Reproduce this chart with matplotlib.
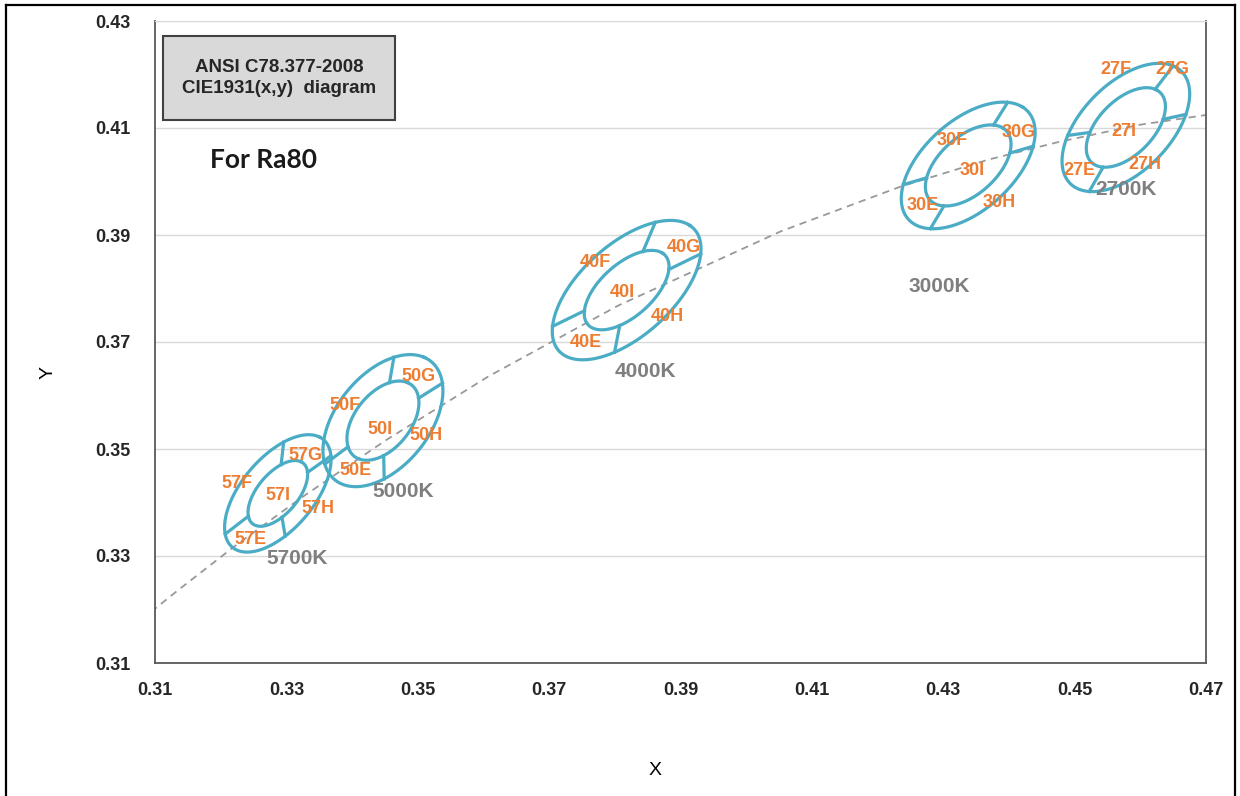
import matplotlib
matplotlib.use("Agg")
import matplotlib.pyplot as plt
import numpy as np
from matplotlib.patches import Rectangle
from matplotlib.lines import Line2D

plt.rcParams['font.family'] = ['Liberation Sans', 'DejaVu Sans']

# ANSI C78.377 nominal centres
cct_names = ["5700K", "5000K", "4000K", "3000K", "2700K"]
prefixes = ["57", "50", "40", "30", "27"]
center_x = [0.3287, 0.3447, 0.3818, 0.4338, 0.4578]
center_y = [0.3417, 0.3553, 0.3797, 0.4030, 0.4101]

# ellipse shape (data units) - semi axes, tilt, inner ring scale
semi_major = [0.0123, 0.0134, 0.01545, 0.0137, 0.0136]
semi_minor = [0.0059, 0.0075, 0.0077, 0.0075, 0.0073]
tilt_deg = [59, 62, 51.7, 53, 56]
inner_scale = [0.56, 0.60, 0.57, 0.64, 0.62]
# direction of the 4 dividing lines (E/F, F/G, G/H, H/E), degrees
divide_deg = [
    [223.5, 84.7, 41.0, 278.0],
    [222.6, 82.0, 37.7, 271.0],
    [211.0, 71.0, 31.0, 261.0],
    [200.0, 63.0, 20.0, 244.0],
    [189.6, 58.0, 15.0, 245.0],
]

# sub-bin label positions E, F, G, H, I
bins = ["E", "F", "G", "H", "I"]
bin_x = [
    [0.32448, 0.32245, 0.33286, 0.33488, 0.32879],
    [0.34048, 0.33895, 0.35012, 0.35130, 0.34418],
    [0.37552, 0.37705, 0.39050, 0.38797, 0.38111],
    [0.42683, 0.43140, 0.44155, 0.43851, 0.43445],
    [0.45069, 0.45629, 0.46493, 0.46071, 0.45746],
]
bin_y = [
    [0.33309, 0.34354, 0.34882, 0.33887, 0.34135],
    [0.34602, 0.35815, 0.36356, 0.35255, 0.35362],
    [0.36997, 0.38490, 0.38770, 0.37476, 0.37930],
    [0.39548, 0.40774, 0.40916, 0.39610, 0.40214],
    [0.40201, 0.42101, 0.42088, 0.40326, 0.40929],
]
cct_label_x = [0.33159, 0.34784, 0.38467, 0.42946, 0.45781]
cct_label_y = [0.32954, 0.34197, 0.36455, 0.38036, 0.39847]

# Planckian locus (tabulated)
locus_x = [0.3064, 0.3135, 0.3221, 0.3324, 0.3451, 0.3608, 0.3805, 0.4053, 0.4234, 0.4369, 0.4476, 0.4599, 0.4770]
locus_y = [0.3166, 0.3236, 0.3318, 0.3410, 0.3516, 0.3636, 0.3768, 0.3907, 0.3990, 0.4041, 0.4074, 0.4106, 0.4137]

ticks = [0.31, 0.33, 0.35, 0.37, 0.39, 0.41, 0.43, 0.45, 0.47]

ring_color = "#4BACC6"
bin_color = "#ED7D31"
cct_color = "#7F7F7F"

fig = plt.figure(figsize=(12.4, 7.96), dpi=100)
ax = fig.add_axes([155 / 1240, 1 - 663 / 796, 1051 / 1240, 642 / 796])
ax.set_xlim(0.31, 0.47)
ax.set_ylim(0.31, 0.43)
ax.set_xticks(ticks)
ax.set_yticks(ticks[:7])
ax.set_xticklabels(["%.2f" % v for v in ticks], fontsize=13, fontweight="bold", color="#262626")
ax.set_yticklabels(["%.2f" % v for v in ticks[:7]], fontsize=13, fontweight="bold", color="#262626")
ax.tick_params(axis="both", length=0)
ax.tick_params(axis="y", pad=18)
ax.tick_params(axis="x", pad=14)
ax.grid(axis="y", color="#D9D9D9", linewidth=1)
ax.set_axisbelow(True)
for s in ["left", "bottom", "right"]:
    ax.spines[s].set_color("#595959")
    ax.spines[s].set_linewidth(1.3)
ax.spines["top"].set_color("#D9D9D9")

ax.set_xlabel("X", fontsize=14)
ax.xaxis.set_label_coords(0.476, -0.154)
ax.set_ylabel("Y", fontsize=14)
ax.yaxis.set_label_coords(-0.094, 0.452)

# dashed Planckian locus
ax.plot(locus_x, locus_y, linestyle=(0, (4, 3)), color="#999999", linewidth=1.3)

t = np.linspace(0, 2 * np.pi, 300)
for i in range(len(cct_names)):
    cx, cy = center_x[i], center_y[i]
    a, b = semi_major[i], semi_minor[i]
    th = np.radians(tilt_deg[i])
    for k in [1.0, inner_scale[i]]:
        ex = cx + k * (a * np.cos(t) * np.cos(th) - b * np.sin(t) * np.sin(th))
        ey = cy + k * (a * np.cos(t) * np.sin(th) + b * np.sin(t) * np.cos(th))
        ax.plot(ex, ey, color=ring_color, linewidth=2.3)
    for phi_deg in divide_deg[i]:
        phi = np.radians(phi_deg)
        r = 1 / np.sqrt((np.cos(phi - th) / a) ** 2 + (np.sin(phi - th) / b) ** 2)
        k = inner_scale[i]
        ax.plot([cx + k * r * np.cos(phi), cx + r * np.cos(phi)],
                [cy + k * r * np.sin(phi), cy + r * np.sin(phi)],
                color=ring_color, linewidth=2.3)
    for j, bn in enumerate(bins):
        ax.text(bin_x[i][j], bin_y[i][j], prefixes[i] + bn, color=bin_color,
                fontsize=13, fontweight="bold", ha="center", va="center")
    ax.text(cct_label_x[i], cct_label_y[i], cct_names[i], color=cct_color,
            fontsize=15, fontweight="bold", ha="center", va="center")

# title box
ax.add_patch(Rectangle((8 / 1051, 543 / 642), 232 / 1051, 84 / 642, transform=ax.transAxes,
                       facecolor="#D9D9D9", edgecolor="#404040", linewidth=1.5, zorder=5))
ax.text(0.118, 0.911, "ANSI C78.377-2008\nCIE1931(x,y)  diagram", transform=ax.transAxes,
        ha="center", va="center", fontsize=13.5, fontweight="bold", color="#262626",
        linespacing=1.35, zorder=6)
ax.text(0.1037, 0.7835, "For Ra80", transform=ax.transAxes, ha="center", va="center",
        fontsize=19, fontweight="bold", color="#1a1a1a", family=["Lato", "DejaVu Sans"])

# outer frame of picture
fig.add_artist(Line2D([6 / 1240, 6 / 1240], [-0.01, 1 - 5 / 796], color="black", linewidth=1.6))
fig.add_artist(Line2D([6 / 1240, 1235 / 1240], [1 - 5 / 796, 1 - 5 / 796], color="black", linewidth=1.6))
fig.add_artist(Line2D([1235 / 1240, 1235 / 1240], [-0.01, 1 - 5 / 796], color="black", linewidth=1.6))

fig.savefig("out.png", dpi=100)
